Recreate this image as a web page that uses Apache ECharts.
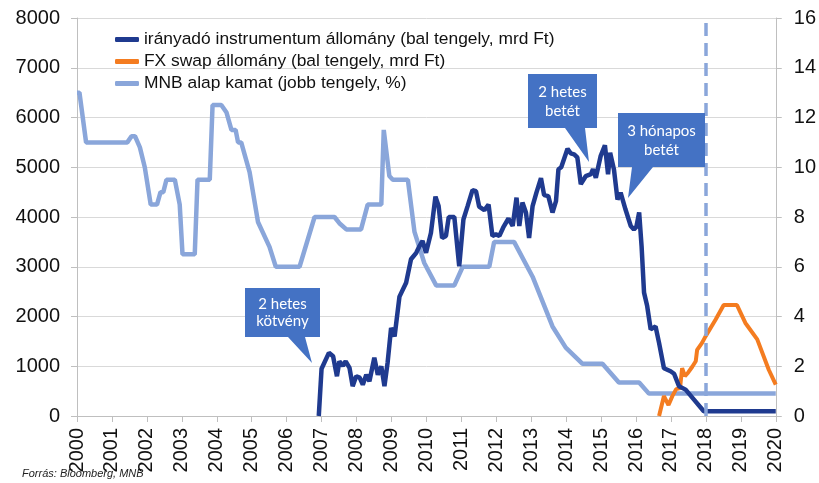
<!DOCTYPE html>
<html>
<head>
<meta charset="utf-8">
<script src="https://cdn.jsdelivr.net/npm/echarts@6/dist/echarts.min.js"></script>
<style>
  html, body { margin: 0; padding: 0; background: #fff; }
  #chart { width: 819px; height: 483px; }
</style>
</head>
<body>
<div id="chart"></div>
<script>
// tick labels
var evek = [2000, 2020];
var balTengely = [0, 8000];
var jobbTengely = [0, 16];

// irányadó instrumentum állomány (mrd Ft)
var iranyadoEv = [2006.92, 2007.0, 2007.21, 2007.33, 2007.44, 2007.51, 2007.61, 2007.69, 2007.80, 2007.89,
    2007.99, 2008.09, 2008.18, 2008.28, 2008.37, 2008.51, 2008.61, 2008.71, 2008.80, 2008.89,
    2008.99, 2009.09, 2009.23, 2009.42, 2009.56, 2009.71, 2009.80, 2009.89, 2009.99, 2010.13,
    2010.26, 2010.35, 2010.45, 2010.56, 2010.64, 2010.80, 2010.94, 2011.06, 2011.18, 2011.32,
    2011.42, 2011.51, 2011.66, 2011.78, 2011.89, 2011.99, 2012.09, 2012.20, 2012.35, 2012.47,
    2012.58, 2012.66, 2012.75, 2012.85, 2012.94, 2013.04, 2013.15, 2013.28, 2013.37, 2013.49,
    2013.61, 2013.71, 2013.78, 2013.86, 2014.04, 2014.13, 2014.23, 2014.32, 2014.42, 2014.56,
    2014.71, 2014.77, 2014.85, 2014.99, 2015.11, 2015.20, 2015.26, 2015.37, 2015.47, 2015.56,
    2015.70, 2015.85, 2015.94, 2016.01, 2016.09, 2016.16, 2016.23, 2016.32, 2016.42, 2016.56,
    2016.66, 2016.80, 2016.99, 2017.09, 2017.23, 2017.42, 2017.66, 2017.94, 2020.0];
var iranyadoAllomany = [0, 950, 1270, 1200, 800, 1100, 1010, 1100, 967, 600,
    800, 770, 630, 830, 700, 1170, 830, 1000, 600, 1070,
    1770, 1600, 2400, 2680, 3150, 3280, 3410, 3520, 3280, 3680,
    4410, 4220, 3580, 3620, 4000, 4000, 3010, 3950, 4220, 4540,
    4520, 4210, 4140, 4250, 3620, 3650, 3620, 3790, 3970, 3820,
    4390, 3820, 4290, 4090, 3580, 4220, 4490, 4780, 4440, 4420,
    4090, 4320, 4960, 5000, 5370, 5280, 5260, 5200, 4660, 4820,
    4860, 4960, 4790, 5230, 5440, 4860, 5290, 4950, 4350, 4490,
    4150, 3820, 3750, 3800, 4090, 3410, 2480, 2210, 1740, 1800,
    1470, 960, 900, 850, 600, 530, 330, 95, 95];

// FX swap állomány (mrd Ft)
var swapEv = [2016.66, 2016.80, 2016.93, 2017.04, 2017.15, 2017.26, 2017.32, 2017.40, 2017.49, 2017.61,
    2017.71, 2017.75, 2017.89, 2017.99, 2018.28, 2018.51, 2018.89, 2019.13, 2019.47, 2019.80, 2020.0];
var swapAllomany = [0, 400, 220, 400, 540, 560, 960, 800, 870, 990,
    1100, 1330, 1470, 1600, 1940, 2230, 2230, 1870, 1540, 930, 630];

// MNB alapkamat (%)
var kamatEv = [2000.0, 2000.07, 2000.26, 2001.44, 2001.56, 2001.66, 2001.80, 2001.94, 2002.11, 2002.29,
    2002.39, 2002.47, 2002.56, 2002.80, 2002.94, 2003.02, 2003.37, 2003.45, 2003.80, 2003.88,
    2004.13, 2004.28, 2004.42, 2004.54, 2004.61, 2004.70, 2004.94, 2005.18, 2005.51, 2005.69,
    2006.37, 2006.80, 2007.37, 2007.51, 2007.71, 2008.13, 2008.32, 2008.71, 2008.78, 2008.94,
    2009.04, 2009.47, 2009.66, 2009.94, 2010.28, 2010.80, 2011.04, 2011.80, 2011.94, 2012.51,
    2013.04, 2013.61, 2013.99, 2014.47, 2015.04, 2015.51, 2016.09, 2016.37, 2020.0];
var alapKamat = [13.0, 13.0, 11.0, 11.0, 11.25, 11.25, 10.8, 10.0, 8.5, 8.5,
    9.0, 9.0, 9.5, 9.5, 8.5, 6.5, 6.5, 9.5, 9.5, 12.5,
    12.5, 12.2, 11.5, 11.5, 11.0, 11.0, 9.8, 7.8, 6.8, 6.0,
    6.0, 8.0, 8.0, 7.75, 7.5, 7.5, 8.5, 8.5, 11.5, 9.65,
    9.5, 9.5, 7.4, 6.15, 5.25, 5.25, 6.0, 6.0, 7.0, 7.0,
    5.6, 3.6, 2.75, 2.1, 2.1, 1.35, 1.35, 0.9, 0.9];

var valtasEv = 2018;

var zip = function(xs, ys){
    var out = [];
    for (var i = 0; i < xs.length; i++) {
        out.push([xs[i], ys[i]]);
    }
    return out;
};

// szövegbuborék: doboz + csőr
var buborek = function(x1, y1, x2, y2, c1, c2, tx, ty, sor1, sor2){
    return [
        {
            type: 'polygon',
            shape: { points: [[x1, y1], [x2, y1], [x2, y2], [c2, y2], [tx, ty], [c1, y2], [x1, y2]] },
            style: { fill: '#4472C4' },
            z: 100
        },
        {
            type: 'text',
            x: (x1 + x2) / 2, y: y1 + (y2 - y1) * 0.33,
            style: { text: sor1, fill: '#fff', font: '15px Lato, "Open Sans", sans-serif',
                     textAlign: 'center', textVerticalAlign: 'middle' },
            z: 101
        },
        {
            type: 'text',
            x: (x1 + x2) / 2, y: y1 + (y2 - y1) * 0.68,
            style: { text: sor2, fill: '#fff', font: '15px Lato, "Open Sans", sans-serif',
                     textAlign: 'center', textVerticalAlign: 'middle' },
            z: 101
        }
    ];
};

var font = 'Liberation Sans';
var sima = function(v){ return String(v); };

var option = {
    animation: false,
    backgroundColor: '#fff',
    grid: { left: 77, right: 41, top: 18, bottom: 67, containLabel: false },
    legend: {
        orient: 'vertical',
        left: 110, top: 26,
        itemWidth: 24, itemHeight: 5, itemGap: 5,
        icon: 'roundRect',
        textStyle: { fontFamily: font, fontSize: 17.4, color: '#111', lineHeight: 17 },
        data: ['irányadó instrumentum állomány (bal tengely, mrd Ft)',
               'FX swap állomány (bal tengely, mrd Ft)',
               'MNB alap kamat (jobb tengely, %)']
    },
    xAxis: {
        type: 'value',
        min: evek[0], max: evek[1], interval: 1,
        axisLine: { show: true, lineStyle: { color: '#bfbfbf' } },
        axisTick: { show: true, length: 6, lineStyle: { color: '#bfbfbf' } },
        splitLine: { show: false },
        axisLabel: { rotate: 90, margin: 12, fontFamily: font, fontSize: 20, color: '#111', formatter: sima }
    },
    yAxis: [
        {
            type: 'value',
            min: balTengely[0], max: balTengely[1], interval: 1000,
            axisLine: { show: true, lineStyle: { color: '#bfbfbf' } },
            axisTick: { show: true, length: 6, lineStyle: { color: '#bfbfbf' } },
            splitLine: { lineStyle: { color: '#d9d9d9' } },
            axisLabel: { margin: 17, fontFamily: font, fontSize: 20, color: '#111', formatter: sima }
        },
        {
            type: 'value',
            min: jobbTengely[0], max: jobbTengely[1], interval: 2,
            axisLine: { show: true, lineStyle: { color: '#bfbfbf' } },
            axisTick: { show: true, length: 6, lineStyle: { color: '#bfbfbf' } },
            splitLine: { show: false },
            axisLabel: { margin: 18, fontFamily: font, fontSize: 20, color: '#111', formatter: sima }
        }
    ],
    series: [
        {
            name: 'irányadó instrumentum állomány (bal tengely, mrd Ft)',
            type: 'line', yAxisIndex: 0, showSymbol: false,
            data: zip(iranyadoEv, iranyadoAllomany),
            itemStyle: { color: '#1F3A8F' },
            lineStyle: { color: '#1F3A8F', width: 4.5 },
            z: 4
        },
        {
            name: 'FX swap állomány (bal tengely, mrd Ft)',
            type: 'line', yAxisIndex: 0, showSymbol: false,
            data: zip(swapEv, swapAllomany),
            itemStyle: { color: '#F47C20' },
            lineStyle: { color: '#F47C20', width: 4 },
            z: 3
        },
        {
            name: 'MNB alap kamat (jobb tengely, %)',
            type: 'line', yAxisIndex: 1, showSymbol: false,
            data: zip(kamatEv, alapKamat),
            itemStyle: { color: '#8AA6DA' },
            lineStyle: { color: '#8AA6DA', width: 4.5 },
            z: 2,
            markLine: {
                silent: true, symbol: 'none', label: { show: false },
                lineStyle: { color: '#8AA6DA', width: 3.5, type: [13, 7] },
                data: [{ xAxis: valtasEv }]
            }
        }
    ],
    graphic: [].concat(
        buborek(245, 288, 320, 337, 288, 305, 312, 363, '2 hetes', 'kötvény'),
        buborek(528, 74, 597, 128, 565, 585, 589, 162, '2 hetes', 'betét'),
        buborek(618, 113, 705, 167, 632, 653, 628, 198, '3 hónapos', 'betét'),
        [{
            type: 'text', left: 22, top: 468,
            style: { text: 'Forrás: Bloomberg, MNB', fill: '#222',
                     font: 'italic 11px "Liberation Sans Narrow", "Liberation Sans", Arial, sans-serif' }
        }]
    )
};

var chart = echarts.init(document.getElementById('chart'));
chart.setOption(option);
</script>
</body>
</html>
